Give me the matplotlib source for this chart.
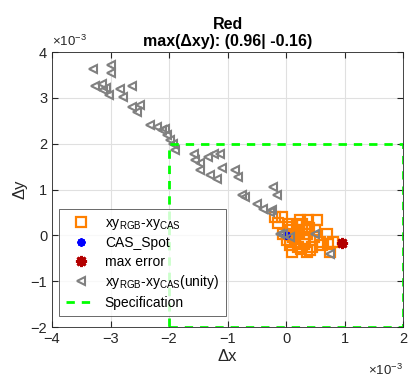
import matplotlib
matplotlib.use('Agg')
import matplotlib.pyplot as plt

plt.rcParams['font.family'] = ['Liberation Sans', 'DejaVu Sans']
plt.rcParams['mathtext.fontset'] = 'custom'
plt.rcParams['mathtext.rm'] = 'Liberation Sans'

# unity points (x1e-3)
tri_x = [-3.30, -3.00, -3.00, -3.26, -3.15, -3.07, -3.13, -3.02, -2.84, -2.64, -2.79, -2.64, -2.50, -2.55,
         -2.32, -2.21, -2.12, -2.04, -1.98, -1.93, -2.07, -1.90, -1.58, -1.56, -1.47, -1.47, -1.33, -1.24,
         -1.13, -1.30, -1.18, -1.10, -0.87, -0.82, -0.76, -0.70, -0.50, -0.39, -0.27, -0.22, -0.16, -0.24,
         -0.05, -0.10, 0.07, 0.50, 0.75]
tri_y = [3.62, 3.71, 3.55, 3.26, 3.31, 3.22, 3.17, 3.07, 3.20, 3.26, 3.02, 2.80, 2.84, 2.69,
         2.40, 2.36, 2.29, 2.18, 2.07, 2.00, 2.33, 1.86, 1.78, 1.64, 1.57, 1.42, 1.71, 1.78,
         1.78, 1.31, 1.24, 1.46, 1.42, 1.27, 0.87, 0.84, 0.69, 0.58, 0.51, 1.05, 0.87, 0.55,
         0.04, 0.04, -0.04, 0.04, -0.40]

sq_x = [-0.19, -0.07, -0.13, 0.38, 0.52, 0.35, 0.18, 0.27, 0.70, 0.72, 0.61, 0.75, 0.41, 0.21, 0.07,
        0.01, 0.12, -0.05, 0.07, 0.30, 0.47, 0.50, 0.30, 0.35, 0.58, 0.24, 0.10, 0.35, 0.81, 0.15,
        0.20, 0.25, 0.40, 0.05, 0.45, 0.28, 0.15, 0.33, 0.22, 0.10]
sq_y = [0.40, 0.40, 0.26, 0.33, 0.33, 0.18, 0.22, 0.11, 0.04, -0.18, -0.22, -0.36, -0.33, -0.25, -0.22,
        -0.11, -0.04, 0.04, 0.11, -0.07, -0.04, 0.11, -0.18, 0.04, -0.15, 0.33, -0.36, -0.36, -0.15, 0.0,
        0.08, -0.30, 0.15, 0.25, -0.25, 0.25, -0.15, -0.10, 0.05, 0.18]

cas_x = [0.0]
cas_y = [0.0]
max_x = [0.96]
max_y = [-0.16]

spec_x = [-2, 2, 2, -2, -2]
spec_y = [-2, -2, 2, 2, -2]

dark = (0.15, 0.15, 0.15)

fig = plt.figure(figsize=(4.08, 3.81), dpi=100)
ax = fig.add_axes([0.1275, 0.1417, 0.8605, 0.7218])

ax.plot(sq_x, sq_y, 's', mfc='none', mec=(1, 0.5, 0), ms=7, mew=1.6, ls='none',
        label=r'xy$_{\mathrm{RGB}}$-xy$_{\mathrm{CAS}}$')
ax.plot(cas_x, cas_y, marker=(8, 2, 0), color='blue', ms=6, mew=1.5, ls='none', label='CAS_Spot')
ax.plot(max_x, max_y, marker=(8, 2, 0), color=(0.7, 0, 0), ms=8, mew=2, ls='none', label='max error')
ax.plot(tri_x, tri_y, '<', mfc='none', mec=(0.5, 0.5, 0.5), ms=6, mew=1.5, ls='none',
        label=r'xy$_{\mathrm{RGB}}$-xy$_{\mathrm{CAS}}$(unity)')
ax.plot(spec_x, spec_y, '--', color=(0, 1, 0), lw=2, dashes=(3, 2.5), label='Specification')

ax.set_xlim(-4, 2)
ax.set_ylim(-2, 4)
ax.set_xticks([-4, -3, -2, -1, 0, 1, 2])
ax.set_yticks([-2, -1, 0, 1, 2, 3, 4])
ax.grid(True, color=(0.88, 0.88, 0.88), lw=0.8)
ax.set_axisbelow(True)
ax.tick_params(direction='in', top=True, right=True, labelsize=10.5, length=4, colors=dark)
for s in ax.spines.values():
    s.set_color(dark)
    s.set_linewidth(0.6)

ax.set_xlabel('Δx', fontsize=12, color=dark, labelpad=2)
ax.set_ylabel('Δy', fontsize=12, color=dark, labelpad=2)
ax.set_title('Red\nmax(Δxy): (0.96| -0.16)', fontsize=11.5, fontweight='bold', pad=4)

ax.text(0.0, 1.01, r'×10$^{-3}$', transform=ax.transAxes, fontsize=9.5, color=dark,
        ha='left', va='bottom')
ax.text(1.0, -0.13, r'×10$^{-3}$', transform=ax.transAxes, fontsize=9.5, color=dark,
        ha='right', va='top')

leg = ax.legend(loc='upper left', bbox_to_anchor=(0.0, 0.455), fontsize=10, frameon=True,
                fancybox=False, edgecolor=dark, handlelength=2.2,
                borderpad=0.5, labelspacing=0.32, handletextpad=0.6)
leg.get_frame().set_linewidth(0.6)

fig.savefig('out.png', dpi=100)
